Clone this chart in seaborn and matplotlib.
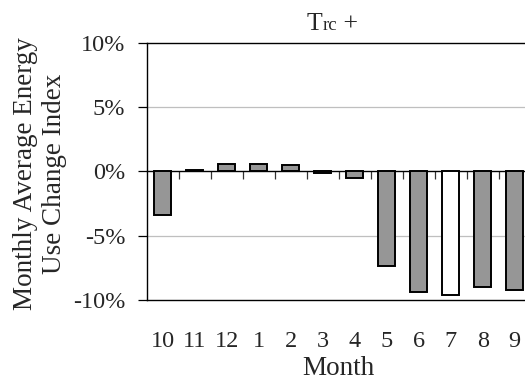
import matplotlib
matplotlib.use("Agg")
import matplotlib.pyplot as plt
from matplotlib.transforms import offset_copy
import seaborn as sns
import pandas as pd

# Monthly change index (%), heating-year order starting in October
months = ["10", "11", "12", "1", "2", "3", "4", "5", "6", "7", "8", "9"]
change_pct = [-3.4, 0.1, 0.6, 0.6, 0.5, -0.15, -0.5, -7.35, -9.4, -9.65, -9.0, -9.2]
bar_colors = ["#969696"] * 9 + ["#ffffff"] + ["#969696"] * 2

y_ticks = [-10, -5, 0, 5, 10]
y_ticklabels = ["-10%", "-5%", "0%", "5%", "10%"]

sns.set_theme(style="white")
plt.rcParams["font.family"] = ["Liberation Serif", "DejaVu Serif"]

df = pd.DataFrame({"Month": months, "Change": change_pct})

fig = plt.figure(figsize=(5.25, 3.83), dpi=100)
ax = fig.add_axes([0.2794, 0.2167, 0.7314, 0.6723])

sns.barplot(data=df, x="Month", y="Change", hue="Month", order=months,
            hue_order=months, palette=bar_colors, legend=False,
            width=0.53, edgecolor="black", linewidth=1.4, ax=ax, zorder=3)

ymin, ymax = -10, 10
ax.set_ylim(ymin, ymax)
ax.set_xlim(-0.5, len(months) - 0.5)
ax.set_yticks(y_ticks)
ax.set_yticklabels(y_ticklabels)
ax.tick_params(axis="y", direction="out", length=6.5, width=0.9,
               color="black", pad=9, labelsize=17.5, left=True)
ax.tick_params(axis="x", length=0, pad=22, labelsize=17.5)

# light horizontal gridlines at +/-5 %
for v in (-5, 5):
    ax.axhline(v, color="#bfbfbf", linewidth=0.9, zorder=1)

for side in ("left", "top", "bottom"):
    ax.spines[side].set_visible(True)
    ax.spines[side].set_color("black")
    ax.spines[side].set_linewidth(1.0)
ax.spines["right"].set_visible(False)

# category axis line through zero with boundary tick marks pointing down
zero_loc = (0 - ymin) / (ymax - ymin)
sec = ax.secondary_xaxis(zero_loc)
sec.xaxis.set_ticks_position("bottom")
sec.set_xticks([i + 0.5 for i in range(len(months) - 1)])
sec.set_xticklabels([])
sec.tick_params(axis="x", direction="out", length=5.5, width=0.9, color="#333333")
for s in sec.spines.values():
    s.set_color("black")
    s.set_linewidth(1.0)

ax.set_xlabel("Month", fontsize=19.5, labelpad=3.5)
ax.set_ylabel("")
fig.text(0.076, 0.546, "Monthly Average Energy\nUse Change Index", rotation=90,
         ha="center", va="center", fontsize=19.5, linespacing=1.2,
         multialignment="center")

# title: "T" with smaller "rc" on the same baseline, then " +"
title_y = 1 - 30 / 383
t_main = fig.text(306.5 / 525, title_y, "T", ha="left", va="baseline", fontsize=18.5)
fig.canvas.draw()
renderer = fig.canvas.get_renderer()
w_t = t_main.get_window_extent(renderer).width
t_sub = fig.text(306.5 / 525, title_y, "rc", ha="left", va="baseline", fontsize=13.5,
                 transform=offset_copy(fig.transFigure, fig=fig, x=w_t, y=-0.5, units="dots"))
w_s = t_sub.get_window_extent(renderer).width
fig.text(306.5 / 525, title_y, " +", ha="left", va="baseline", fontsize=18.5,
         transform=offset_copy(fig.transFigure, fig=fig, x=w_t + w_s, y=0, units="dots"))

fig.savefig("out.png", dpi=100)
